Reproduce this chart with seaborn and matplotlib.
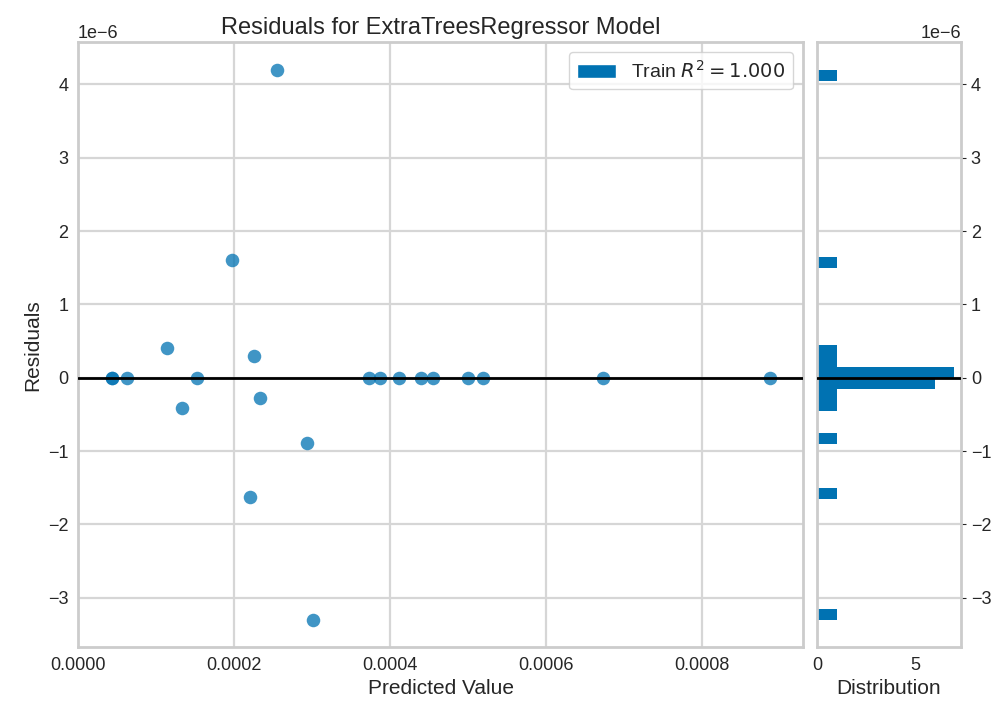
import numpy as np
import matplotlib
matplotlib.use('Agg')
import matplotlib.pyplot as plt
import seaborn as sns
from matplotlib.patches import Patch

# style
sns.set_style("whitegrid", {'axes.edgecolor': '#cccccc', 'grid.color': '#d6d6d6'})
plt.rcParams['font.family'] = ['Liberation Sans', 'DejaVu Sans']
plt.rcParams['axes.linewidth'] = 2.0
plt.rcParams['grid.linewidth'] = 1.6

COLOR = '#0072B2'

# predicted values of the training points
predicted = [0.0002555, 0.0001975, 0.0001147, 0.0001339, 0.0002256, 0.0002337,
             0.0002940, 0.0002210, 0.0003010,
             0.0000430, 0.0000430, 0.0000626, 0.0001530, 0.0003736, 0.0003876,
             0.0004112, 0.0004397, 0.0004555, 0.0005003, 0.0005199, 0.0006730,
             0.0008880]

# residuals in units of 1e-6 (the zero ones are tiny, some above, some below)
residuals_e6 = [4.2, 1.61, 0.40, -0.41, 0.29, -0.28,
                -0.89, -1.63, -3.3,
                1e-12, 1e-12, 1e-12, 1e-12, 1e-12, 1e-12,
                1e-12, -1e-12, -1e-12, -1e-12, -1e-12, -1e-12,
                -1e-12]

train_r2 = 1.000

residuals = np.array(residuals_e6) * 1e-6

fig = plt.figure(figsize=(9.96, 7.05), dpi=100)
ax = fig.add_axes([0.0783, 0.082, 0.728, 0.858])
hax = fig.add_axes([0.8203, 0.082, 0.1446, 0.858], sharey=ax)

# residual scatter
sns.scatterplot(x=predicted, y=residuals, color=COLOR, alpha=0.75,
                s=95, linewidth=0, ax=ax)
ax.axhline(0, color='black', lw=2, zorder=3)
ax.set_xlim(0, 0.00093)

# residual distribution
sns.histplot(y=residuals, bins=50, color=COLOR, alpha=1, linewidth=0,
             ax=hax)
hax.axhline(0, color='black', lw=2, zorder=3)

ax.set_title('Residuals for ExtraTreesRegressor Model', fontsize=17)
ax.set_xlabel('Predicted Value', fontsize=15)
ax.set_ylabel('Residuals', fontsize=15)
ax.tick_params(labelsize=13)

handle = Patch(facecolor=COLOR, label=r'Train $R^2 = {:.3f}$'.format(train_r2))
ax.legend(handles=[handle], loc='upper right', frameon=True, fontsize=14)

hax.set_xlabel('Distribution', fontsize=15)
hax.set_ylabel('')
hax.set_xticks([0, 5])
hax.grid(False, axis='x')
hax.yaxis.tick_right()
hax.yaxis.set_offset_position('right')
hax.tick_params(labelsize=13, labelleft=False, labelright=True)

for a in (ax, hax):
    a.yaxis.get_offset_text().set_fontsize(13)

fig.savefig('out.png', dpi=100)
